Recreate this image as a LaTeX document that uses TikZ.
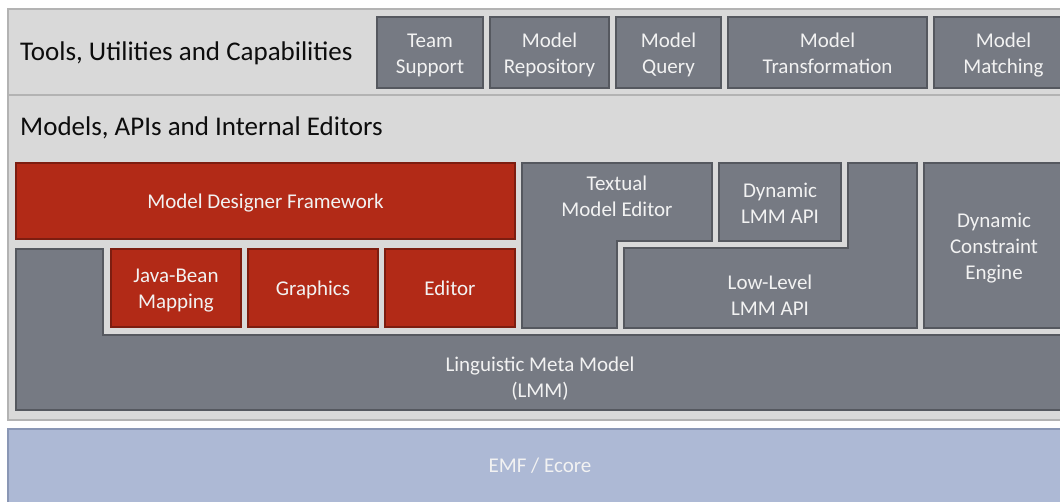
\documentclass[tikz,border=0pt]{standalone}
\usepackage{fontspec}
\setmainfont{Carlito}
\definecolor{bandfill}{HTML}{D9D9D9}
\definecolor{bandline}{HTML}{B3B3B3}
\definecolor{grayfill}{HTML}{767A83}
\definecolor{grayline}{HTML}{55585F}
\definecolor{redfill}{HTML}{B22A17}
\definecolor{redline}{HTML}{7D1D10}
\definecolor{bluefill}{HTML}{ADB9D5}
\definecolor{blueline}{HTML}{8A97B5}
\definecolor{boxtext}{HTML}{F2F2F2}
\tikzset{
  band/.style={fill=bandfill, draw=bandline, line width=2pt},
  emfband/.style={fill=bluefill, draw=blueline, line width=2pt},
  graybox/.style={fill=grayfill, draw=grayline, line width=2pt},
  redbox/.style={fill=redfill, draw=redline, line width=2pt},
  boxlabel/.style={text=boxtext, align=center, inner sep=0pt, text depth=0pt,
    font=\fontsize{21}{26}\selectfont},
  title/.style={text=black!95, anchor=base west, inner sep=0pt,
    font=\fontsize{27}{32}\selectfont}
}
\begin{document}
\begin{tikzpicture}[x=1pt,y=-1pt]
\useasboundingbox (0,0) rectangle (1060,501);
\clip (0,0) rectangle (1060,501);
\fill[white] (0,0) rectangle (1060,501);

% layer bands
\draw[band] (8,9) rectangle (1080,95);
\draw[band] (8,95) rectangle (1080,420);
\draw[emfband] (8,429) rectangle (1080,520);
\node[boxlabel] (emf) at (540,465.7) {EMF / Ecore};

\node[title] (tools) at (20,60) {Tools, Utilities and Capabilities};
\node[title] (models) at (20,135) {Models, APIs and Internal Editors};

% tools row
\draw[graybox] (377,17) rectangle (483,88);
\node[boxlabel] (team) at (430,54) {Team\\Support};
\draw[graybox] (490,17) rectangle (609,88);
\node[boxlabel] (repo) at (549.5,53) {Model\\Repository};
\draw[graybox] (616,17) rectangle (721,88);
\node[boxlabel] (query) at (668.5,53) {Model\\Query};
\draw[graybox] (728,17) rectangle (927,88);
\node[boxlabel] (trans) at (827.5,53) {Model\\Transformation};
\draw[graybox] (934,17) rectangle (1073,88);
\node[boxlabel] (match) at (1003.5,53) {Model\\Matching};

% linguistic meta model (L-shaped base)
\draw[graybox] (16,249) -- (103,249) -- (103,335) -- (1080,335)
  -- (1080,410) -- (16,410) -- cycle;
\node[boxlabel] (lmm) at (540,377.5) {Linguistic Meta Model\\(LMM)};

% model designer framework
\draw[redbox] (16,163) rectangle (515,239);
\node[boxlabel] (mdf) at (265.5,201) {Model Designer Framework};
\draw[redbox] (111,249) rectangle (241,327);
\node[boxlabel] (bean) at (176,289) {Java-Bean\\Mapping};
\draw[redbox] (248,249) rectangle (378,327);
\node[boxlabel] (gfx) at (313,288) {Graphics};
\draw[redbox] (385,249) rectangle (515,327);
\node[boxlabel] (edit) at (450,288) {Editor};

% textual editor and APIs
\draw[graybox] (522,163) -- (712,163) -- (712,241) -- (617,241)
  -- (617,328) -- (522,328) -- cycle;
\node[boxlabel] (textual) at (617,196.4) {Textual\\Model Editor};
\draw[graybox] (719,163) rectangle (841,241);
\node[boxlabel] (dynapi) at (780,203.5) {Dynamic\\LMM API};
\draw[graybox] (848,163) -- (917,163) -- (917,328) -- (624,328)
  -- (624,248) -- (848,248) -- cycle;
\node[boxlabel] (lowapi) at (770,295.7) {Low-Level\\LMM API};
\draw[graybox] (924,163) rectangle (1066,328);
\node[boxlabel] (dce) at (994,246) {Dynamic\\Constraint\\Engine};
\end{tikzpicture}
\end{document}
